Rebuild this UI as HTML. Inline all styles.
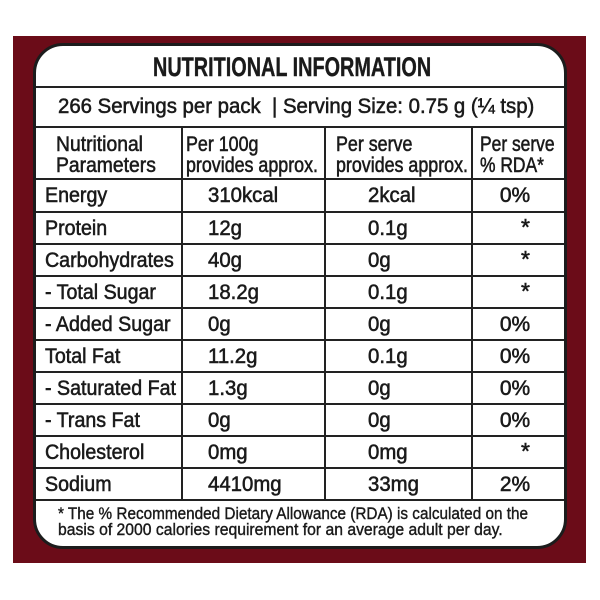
<!DOCTYPE html>
<html>
<head>
<meta charset="utf-8">
<style>
  html,body{margin:0;padding:0;background:#fff;}
  #c{position:relative;width:600px;height:600px;overflow:hidden;background:#fff;
     font-family:"Liberation Sans",Arial,sans-serif;color:#1a1a1a;}
  .maroon{position:absolute;left:13px;top:36px;width:573px;height:527px;background:#6b0c18;}
  .box{position:absolute;left:33px;top:43px;width:528px;height:500px;background:#fff;
       border:3px solid #1c1c1c;border-radius:30px;}
  .h{position:absolute;left:36px;width:528px;height:2px;background:#222;}
  .v{position:absolute;top:127px;height:373px;width:2px;background:#222;}
  .t{position:absolute;white-space:nowrap;transform-origin:0 50%;font-size:21px;
     -webkit-text-stroke:0.55px #1a1a1a;}
  .lab{left:45px;height:32px;line-height:32px;transform:scaleX(0.935);}
  .v2{left:208px;height:32px;line-height:32px;transform:scaleX(0.97);}
  .v3{left:368px;height:32px;line-height:32px;transform:scaleX(0.97);}
  .v4{left:474px;width:82px;text-align:center;height:32px;line-height:32px;transform-origin:50% 50%;}
  .ast{left:521px;height:32px;line-height:32px;font-size:23px;}
  .hd{line-height:21px;top:134px;}
</style>
</head>
<body>
<div id="c">
  <div class="maroon"></div>
  <div class="box"></div>

  <div class="h" style="top:86px"></div>
  <div class="h" style="top:126px"></div>
  <div class="h" style="top:178px"></div>
  <div class="h" style="top:211px"></div>
  <div class="h" style="top:243px"></div>
  <div class="h" style="top:275px"></div>
  <div class="h" style="top:307px"></div>
  <div class="h" style="top:339px"></div>
  <div class="h" style="top:371px"></div>
  <div class="h" style="top:403px"></div>
  <div class="h" style="top:435px"></div>
  <div class="h" style="top:467px"></div>
  <div class="h" style="top:499px"></div>

  <div class="v" style="left:181px"></div>
  <div class="v" style="left:324px"></div>
  <div class="v" style="left:471px"></div>

  <div class="t" style="left:153px;top:45px;height:44px;line-height:44px;font-size:27px;font-weight:bold;transform:scaleX(0.735);-webkit-text-stroke:0.4px #1a1a1a;">NUTRITIONAL INFORMATION</div>

  <div class="t" style="left:58px;top:87px;height:40px;line-height:40px;transform:scaleX(0.97);">266 Servings per pack &nbsp;| Serving Size: 0.75 g (¼ tsp)</div>

  <div class="t hd" style="left:56px;transform:scaleX(0.92);">Nutritional<br>Parameters</div>
  <div class="t hd" style="left:186px;transform:scaleX(0.85);">Per 100g<br>provides approx.</div>
  <div class="t hd" style="left:336px;transform:scaleX(0.85);">Per serve<br>provides approx.</div>
  <div class="t hd" style="left:480px;transform:scaleX(0.83);">Per serve<br>% RDA*</div>

  <div class="t lab" style="top:180px">Energy</div>
  <div class="t v2" style="top:180px">310kcal</div>
  <div class="t v3" style="top:180px">2kcal</div>
  <div class="t v4" style="top:180px">0%</div>

  <div class="t lab" style="top:213px">Protein</div>
  <div class="t v2" style="top:213px">12g</div>
  <div class="t v3" style="top:213px">0.1g</div>
  <div class="t ast" style="top:211px">*</div>

  <div class="t lab" style="top:245px">Carbohydrates</div>
  <div class="t v2" style="top:245px">40g</div>
  <div class="t v3" style="top:245px">0g</div>
  <div class="t ast" style="top:243px">*</div>

  <div class="t lab" style="top:277px">- Total Sugar</div>
  <div class="t v2" style="top:277px">18.2g</div>
  <div class="t v3" style="top:277px">0.1g</div>
  <div class="t ast" style="top:275px">*</div>

  <div class="t lab" style="top:309px">- Added Sugar</div>
  <div class="t v2" style="top:309px">0g</div>
  <div class="t v3" style="top:309px">0g</div>
  <div class="t v4" style="top:309px">0%</div>

  <div class="t lab" style="top:341px">Total Fat</div>
  <div class="t v2" style="top:341px">11.2g</div>
  <div class="t v3" style="top:341px">0.1g</div>
  <div class="t v4" style="top:341px">0%</div>

  <div class="t lab" style="top:373px">- Saturated Fat</div>
  <div class="t v2" style="top:373px">1.3g</div>
  <div class="t v3" style="top:373px">0g</div>
  <div class="t v4" style="top:373px">0%</div>

  <div class="t lab" style="top:405px">- Trans Fat</div>
  <div class="t v2" style="top:405px">0g</div>
  <div class="t v3" style="top:405px">0g</div>
  <div class="t v4" style="top:405px">0%</div>

  <div class="t lab" style="top:437px">Cholesterol</div>
  <div class="t v2" style="top:437px">0mg</div>
  <div class="t v3" style="top:437px">0mg</div>
  <div class="t ast" style="top:435px">*</div>

  <div class="t lab" style="top:469px">Sodium</div>
  <div class="t v2" style="top:469px">4410mg</div>
  <div class="t v3" style="top:469px">33mg</div>
  <div class="t v4" style="top:469px">2%</div>

  <div class="t" style="left:58px;top:506px;font-size:17px;line-height:16px;transform:scaleX(0.90);-webkit-text-stroke:0.4px #1a1a1a;">* The % Recommended Dietary Allowance (RDA) is calculated on the</div>
  <div class="t" style="left:58px;top:522px;font-size:17px;line-height:16px;transform:scaleX(0.925);-webkit-text-stroke:0.4px #1a1a1a;">basis of 2000 calories requirement for an average adult per day.</div>
</div>
</body>
</html>
